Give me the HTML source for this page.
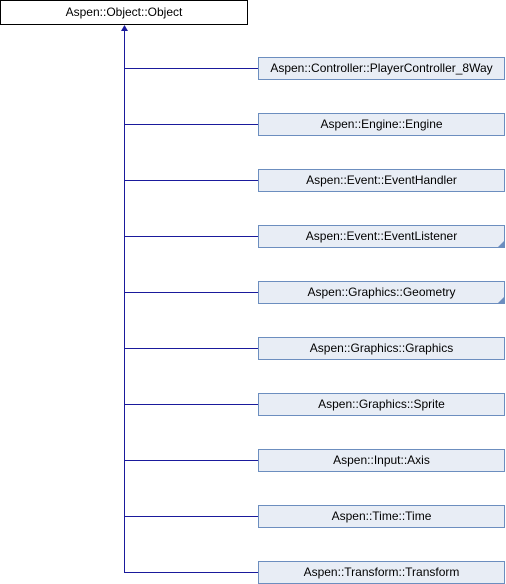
<!DOCTYPE html>
<html><head><style>
body{margin:0;background:#fff;width:506px;height:584px;overflow:hidden;position:relative;font-family:"Liberation Sans",Arial,sans-serif;font-size:12px}
.b{position:absolute;box-sizing:border-box;height:23px;line-height:21px;text-align:center;color:#000}
.c{left:258px;width:247px;background:#e8edf5;border:1px solid #6c8ebf}
.r{left:0;top:0;width:248px;height:25px;line-height:23px;background:#fff;border:1px solid #000}
</style></head><body>
<svg width="506" height="584" style="position:absolute;left:0;top:0">
<g stroke="#1a1a9c" stroke-width="1" fill="none">
<line x1="124.5" y1="30" x2="124.5" y2="572.5"/>
<line x1="124" y1="68.5" x2="258" y2="68.5"/>
<line x1="124" y1="124.5" x2="258" y2="124.5"/>
<line x1="124" y1="180.5" x2="258" y2="180.5"/>
<line x1="124" y1="236.5" x2="258" y2="236.5"/>
<line x1="124" y1="292.5" x2="258" y2="292.5"/>
<line x1="124" y1="348.5" x2="258" y2="348.5"/>
<line x1="124" y1="404.5" x2="258" y2="404.5"/>
<line x1="124" y1="460.5" x2="258" y2="460.5"/>
<line x1="124" y1="516.5" x2="258" y2="516.5"/>
<line x1="124" y1="572.5" x2="258" y2="572.5"/>
</g>
<polygon points="124.5,25 121,31 128,31" fill="#1a1a9c"/>
</svg>
<div class="b r">Aspen::Object::Object</div>
<div class="b c" style="top:57px">Aspen::Controller::PlayerController_8Way</div>
<div class="b c" style="top:113px">Aspen::Engine::Engine</div>
<div class="b c" style="top:169px">Aspen::Event::EventHandler</div>
<div class="b c" style="top:225px">Aspen::Event::EventListener</div>
<div class="b c" style="top:281px">Aspen::Graphics::Geometry</div>
<div class="b c" style="top:337px">Aspen::Graphics::Graphics</div>
<div class="b c" style="top:393px">Aspen::Graphics::Sprite</div>
<div class="b c" style="top:449px">Aspen::Input::Axis</div>
<div class="b c" style="top:505px">Aspen::Time::Time</div>
<div class="b c" style="top:561px">Aspen::Transform::Transform</div>
<svg width="506" height="584" style="position:absolute;left:0;top:0">
<polygon points="505,240 505,247 498,247" fill="#6c8ebf"/>
<polygon points="505,296 505,303 498,303" fill="#6c8ebf"/>
</svg>
</body></html>
